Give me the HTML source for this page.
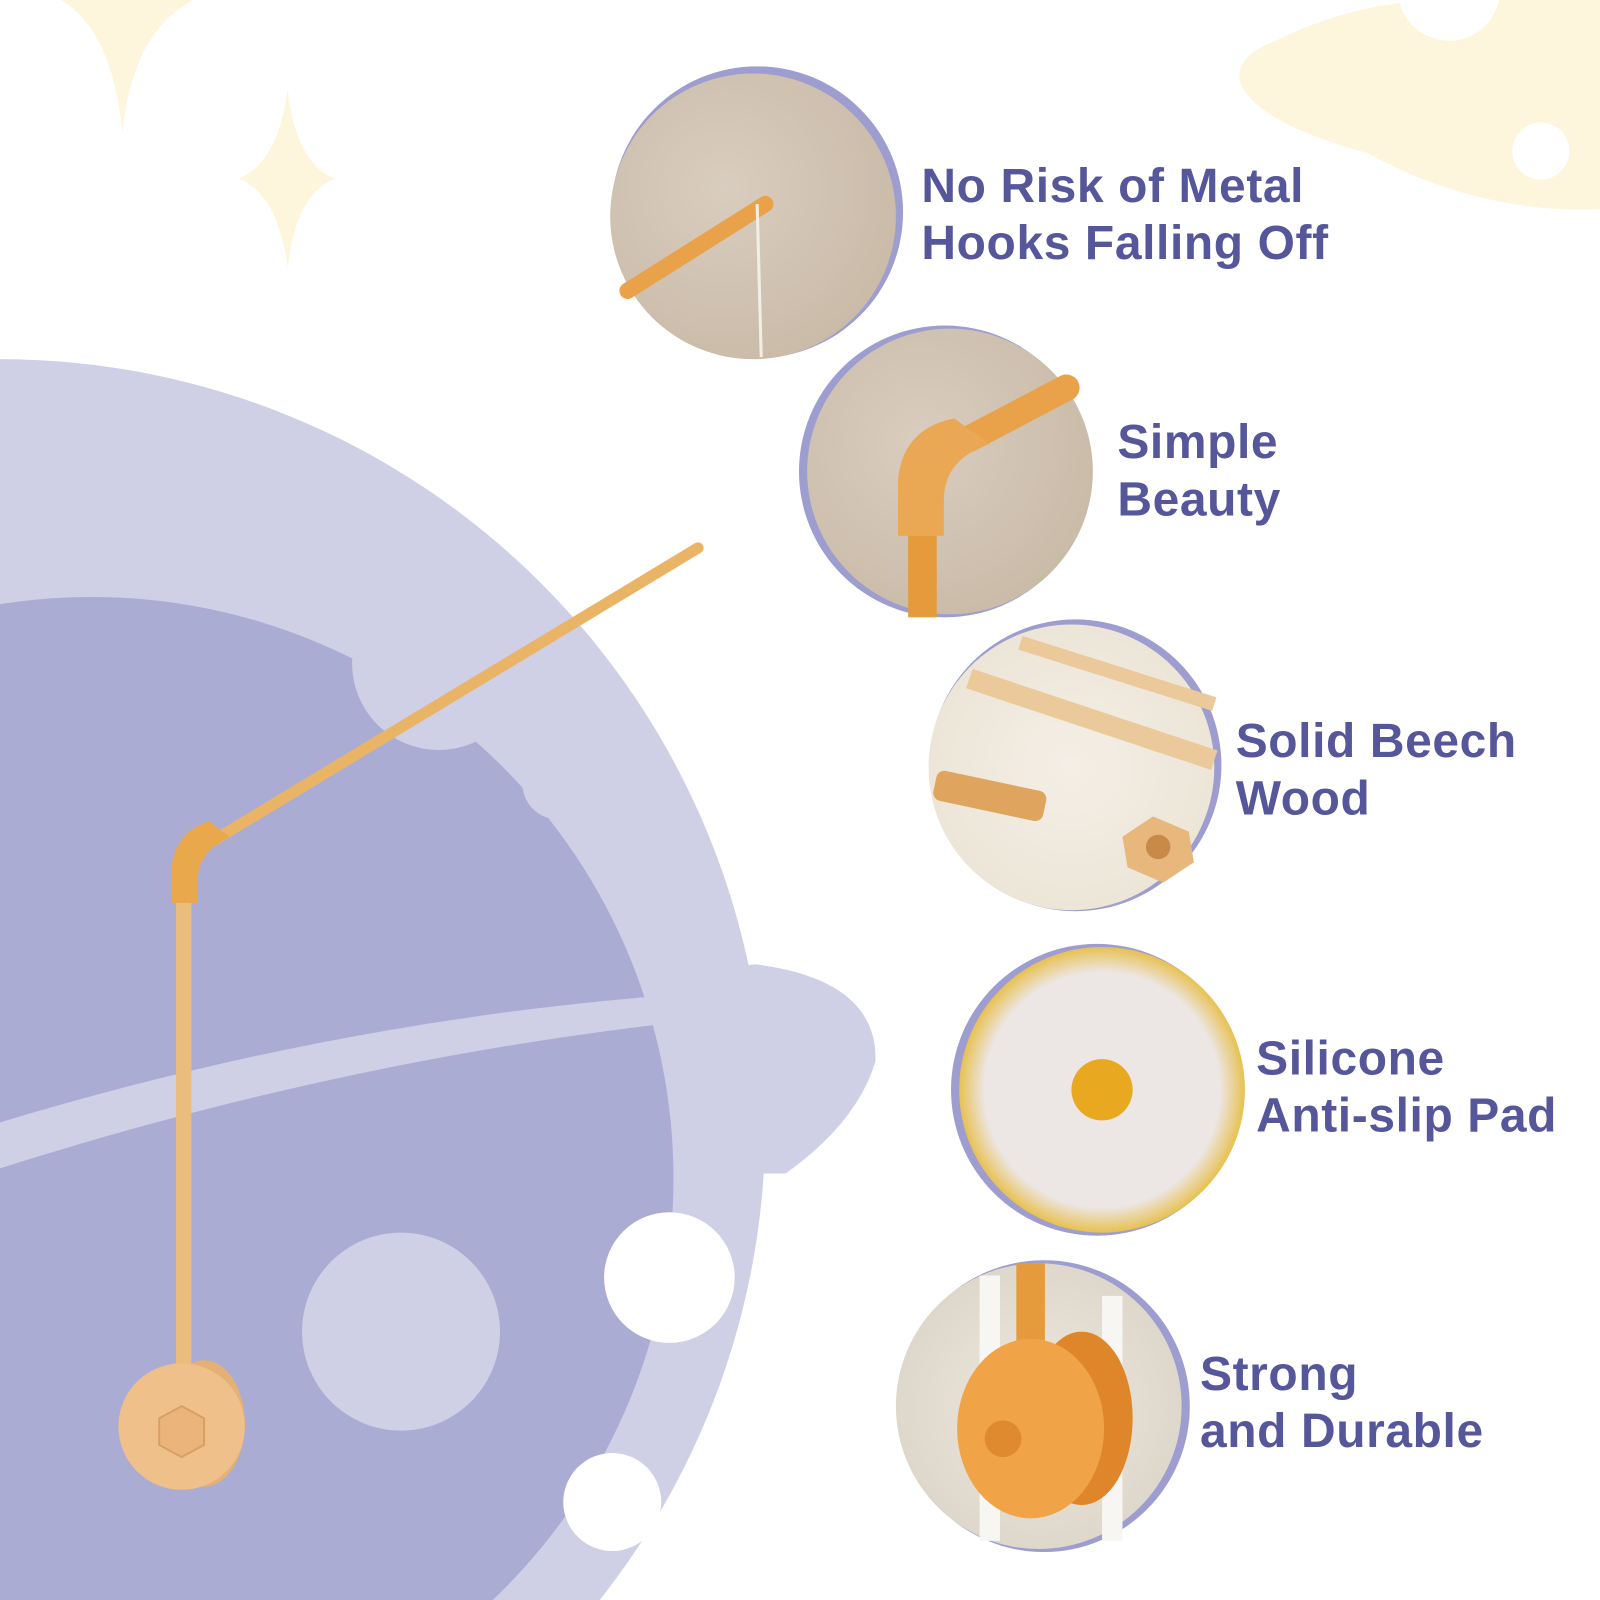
<!DOCTYPE html>
<html><head><meta charset="utf-8"><style>
html,body{margin:0;padding:0;background:#fff;width:1600px;height:1600px;overflow:hidden;position:relative}
svg{display:block;position:absolute;left:0;top:0}
text{font-family:"Liberation Sans","DejaVu Sans",sans-serif;font-weight:bold;fill:#56579b;font-size:47px;letter-spacing:0.6px}
</style></head><body>
<svg width="1600" height="1600" viewBox="0 0 1568 1568" xmlns="http://www.w3.org/2000/svg">
<defs>
<clipPath id="pg"><rect width="1568" height="1568"/></clipPath>
<radialGradient id="g1" cx="0.4" cy="0.4" r="0.7"><stop offset="0" stop-color="#d9cdbf"/><stop offset="1" stop-color="#c9b9a6"/></radialGradient>
<radialGradient id="g3" cx="0.5" cy="0.5" r="0.7"><stop offset="0" stop-color="#f4efe6"/><stop offset="1" stop-color="#e9e1d2"/></radialGradient>
<radialGradient id="g4" cx="0.5" cy="0.5" r="0.55"><stop offset="0.75" stop-color="#ece6e4"/><stop offset="0.9" stop-color="#e8c35a"/><stop offset="1" stop-color="#d9a020"/></radialGradient>
<radialGradient id="g5" cx="0.5" cy="0.5" r="0.7"><stop offset="0" stop-color="#eee8df"/><stop offset="1" stop-color="#d8d0c3"/></radialGradient>
</defs>
<g clip-path="url(#pg)">
<path d="M60 0 Q110 30 120 130 Q130 30 190 0 Z" fill="#fdf5dc"/>
<path d="M282 88 Q290 160 328 175 Q290 190 282 262 Q272 190 234 175 Q272 160 282 88 Z" fill="#fdf5dc"/>
<path d="M1250 40 Q1330 0 1420 0 L1568 0 L1568 205 Q1450 210 1340 150 Q1230 120 1215 80 Q1210 55 1250 40 Z" fill="#fdf5dc"/>
<circle cx="1510" cy="148" r="28" fill="#fff"/>
<circle cx="1420" cy="-10" r="50" fill="#fff"/>
<circle cx="0" cy="1102" r="750" fill="#cfcfe6"/>
<path d="M0 1110 Q400 990 740 945 Q860 960 858 1040 Q840 1100 770 1150 L700 1150 Q400 1040 0 1145 Z" fill="#cfcfe6"/>
<circle cx="90" cy="1155" r="570" fill="#abacd3"/>
<path d="M0 1100 Q330 1000 660 975 L662 1002 Q330 1040 0 1145 Z" fill="#cfcfe6"/>
<circle cx="430" cy="650" r="85" fill="#cfcfe6"/>
<circle cx="547" cy="768" r="35" fill="#cfcfe6"/>
<circle cx="393" cy="1305" r="97" fill="#cfcfe6"/>
<circle cx="656" cy="1252" r="64" fill="#fff"/>
<circle cx="600" cy="1472" r="48" fill="#fff"/>
<line x1="212" y1="822" x2="684" y2="537" stroke="#e9b466" stroke-width="11" stroke-linecap="round"/>
<line x1="180" y1="870" x2="180" y2="1345" stroke="#eabd7d" stroke-width="15"/>
<path d="M168 885 L168 850 Q172 815 205 805 L225 820 Q195 835 194 860 L194 885 Z" fill="#e9a84c"/>
<ellipse cx="200" cy="1395" rx="40" ry="62" fill="#e4b074"/>
<circle cx="178" cy="1398" r="62" fill="#f0c08a"/>
<polygon points="178,1378 200,1390 200,1416 178,1428 156,1416 156,1390" fill="#eab47a" stroke="#d9a066" stroke-width="2"/>
<circle cx="742" cy="208" r="143" fill="#9d9dcf"/>
<circle cx="738" cy="212" r="140" fill="url(#g1)"/>
<line x1="615" y1="285" x2="750" y2="200" stroke="#e9a24a" stroke-width="16" stroke-linecap="round"/>
<line x1="742" y1="200" x2="746" y2="350" stroke="#f2eee6" stroke-width="3"/>
<circle cx="926" cy="462" r="143" fill="#9d9dcf"/>
<circle cx="931" cy="462" r="140" fill="url(#g1)"/>
<line x1="950" y1="430" x2="1045" y2="380" stroke="#e9a24a" stroke-width="26" stroke-linecap="round"/>
<path d="M880 525 L880 470 Q885 420 935 410 L970 435 Q925 450 925 490 L925 525 Z" fill="#eaa854"/>
<rect x="890" y="525" width="28" height="80" fill="#e59a3c"/>
<circle cx="1054" cy="750" r="143" fill="#9d9dcf"/>
<circle cx="1050" cy="752" r="140" fill="url(#g3)"/>
<line x1="950" y1="665" x2="1190" y2="745" stroke="#ebc99a" stroke-width="20"/>
<line x1="1000" y1="630" x2="1190" y2="690" stroke="#ebc99a" stroke-width="14"/>
<rect x="915" y="765" width="110" height="30" rx="8" fill="#dfa55e" transform="rotate(12 970 780)"/>
<polygon points="1130,800 1165,815 1170,845 1140,865 1105,850 1100,820" fill="#e8b77c"/>
<circle cx="1135" cy="830" r="12" fill="#c88a48"/>
<circle cx="1075" cy="1068" r="143" fill="#9d9dcf"/>
<circle cx="1080" cy="1068" r="140" fill="url(#g4)"/>
<circle cx="1080" cy="1068" r="30" fill="#e8a820"/>
<circle cx="1023" cy="1378" r="143" fill="#9d9dcf"/>
<circle cx="1018" cy="1378" r="140" fill="url(#g5)"/>
<rect x="960" y="1250" width="20" height="260" fill="#f8f6f2"/>
<rect x="1080" y="1270" width="20" height="240" fill="#f8f6f2"/>
<rect x="996" y="1238" width="28" height="90" fill="#e59a3c"/>
<ellipse cx="1060" cy="1390" rx="50" ry="85" fill="#e0862a"/>
<ellipse cx="1010" cy="1400" rx="72" ry="88" fill="#f1a447"/>
<circle cx="983" cy="1410" r="18" fill="#e08a30"/>
<text x="903" y="198">No Risk of Metal</text>
<text x="903" y="254">Hooks Falling Off</text>
<text x="1095" y="449">Simple</text>
<text x="1095" y="505">Beauty</text>
<text x="1211" y="742">Solid Beech</text>
<text x="1211" y="798">Wood</text>
<text x="1231" y="1053">Silicone</text>
<text x="1231" y="1109">Anti-slip Pad</text>
<text x="1176" y="1362">Strong</text>
<text x="1176" y="1418">and Durable</text>
</g>
</svg>
</body></html>
